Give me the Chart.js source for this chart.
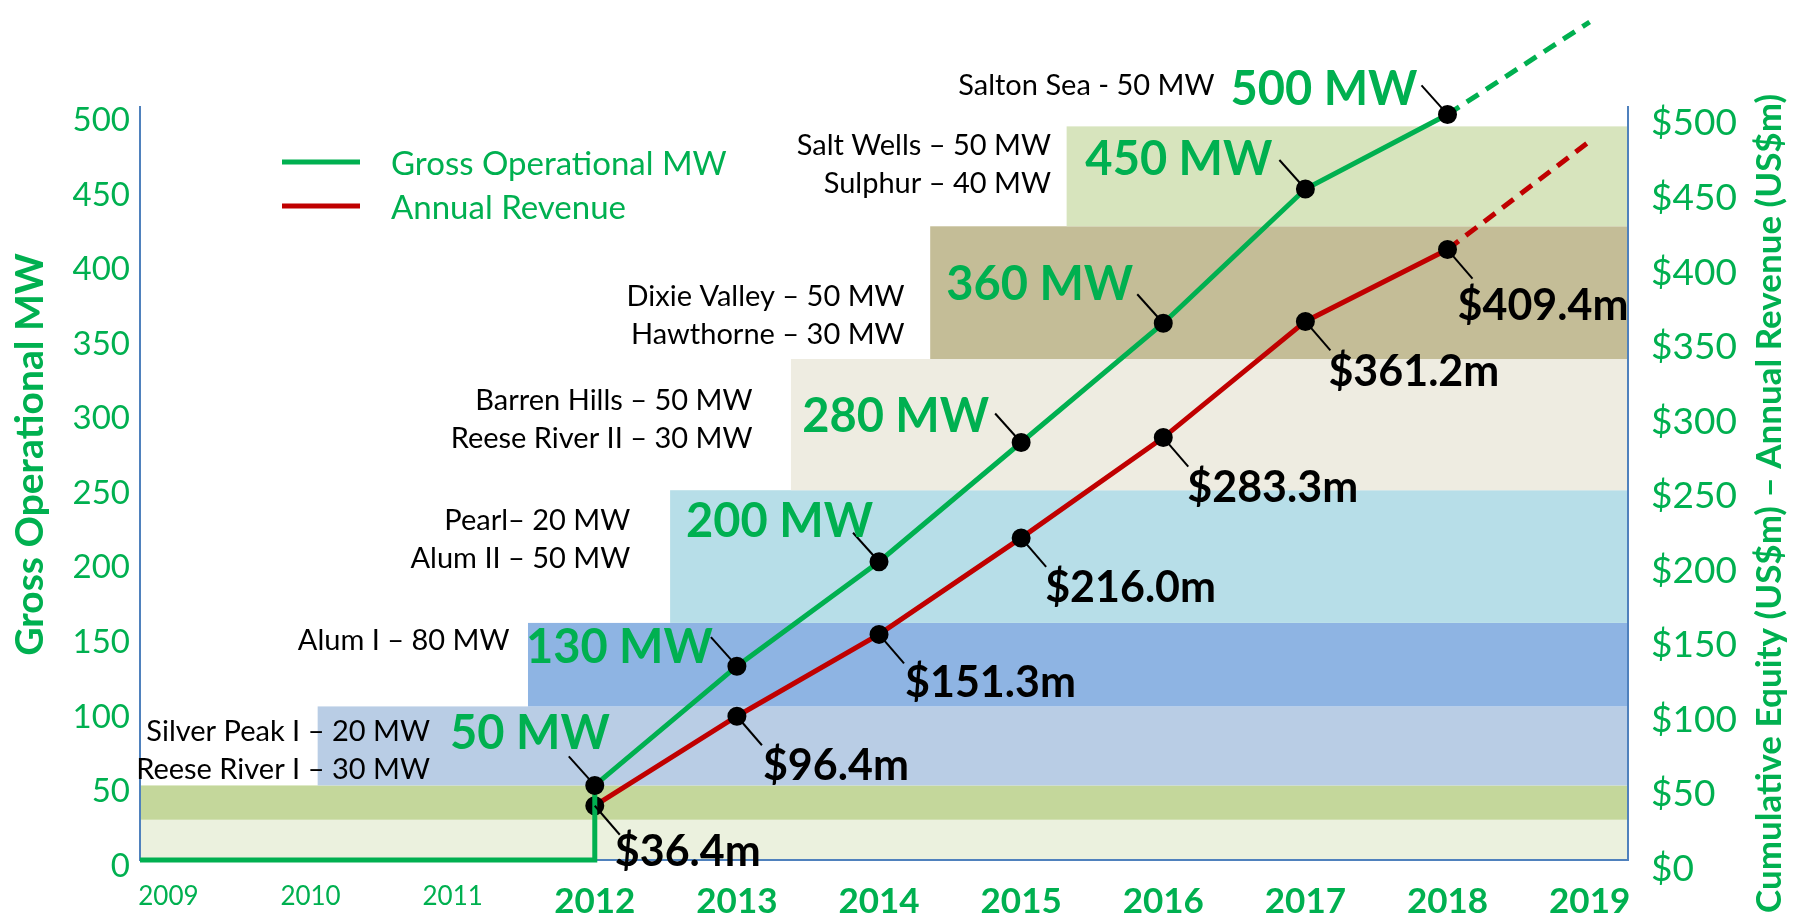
<!DOCTYPE html>
<html lang="en">
<head>
<meta charset="UTF-8">
<title>Gross Operational MW and Annual Revenue</title>
<script src="https://cdn.jsdelivr.net/npm/chart.js"></script>
<style>
  html, body { margin: 0; padding: 0; background: #fff; }
  #wrap { position: relative; width: 1802px; height: 917px; }
</style>
</head>
<body>
<div id="wrap"><canvas id="myChart"></canvas></div>
<script>
// data
const years = [2009, 2010, 2011, 2012, 2013, 2014, 2015, 2016, 2017, 2018];
const grossMW = [0, 0, 0, 50, 130, 200, 280, 360, 450, 500];          // MW
const revenue = [null, null, null, 36.4, 96.4, 151.3, 216.0, 283.3, 361.2, 409.4]; // US$m

// dashed projection
const projYears = [2018, 2019];
const projMW = [500, 562];
const projRevenue = [409.4, 482];

// tick labels
const xTickYears = [2009, 2010, 2011, 2012, 2013, 2014, 2015, 2016, 2017, 2018, 2019];
const yTickValues = [0, 50, 100, 150, 200, 250, 300, 350, 400, 450, 500];

// background bands (year they start, low / high value)
const bandFrom = [null, null, 2010.05, 2011.53, 2012.53, 2013.38, 2014.36, 2015.32];
const bandLow = [0, 27, 50, 103, 159, 248, 336, 425];
const bandHigh = [27, 50, 103, 159, 248, 336, 425, 492];
const bandColors = ['#EBF1DE', '#C4D79B', '#B9CDE5', '#8EB4E3', '#B7DEE8', '#EEECE1', '#C4BD97', '#D7E4BD'];

// plant names added each step
const projectNotes = [
    ['Silver Peak I – 20 MW', 'Reese River I – 30 MW'],
    ['Alum I – 80 MW'],
    ['Pearl– 20 MW', 'Alum II – 50 MW'],
    ['Barren Hills – 50 MW', 'Reese River II – 30 MW'],
    ['Dixie Valley – 50 MW', 'Hawthorne – 30 MW'],
    ['Salt Wells – 50 MW', 'Sulphur – 40 MW'],
    ['Salton Sea - 50 MW']
];

// layout only: where each note sits (right edge year, first line value)
const noteAnchors = [[2010.84, 86.4], [2011.40, 147.4], [2012.25, 227.6], [2013.11, 307.9],
                     [2014.18, 378], [2015.21, 479], [2016.36, 519.3]];
// px nudges of the value labels, from 2012 on
const mwNudge = [[15, -36], [-24, -3], [-6, -25], [-32, -10], [-30, -23], [-33, -14], [-30, -9]];
const revNudge = [[20, 60], [26, 64], [26, 63], [24, 64], [24, 64], [23, 65], [10, 70]];

const GREEN = '#00B050';
const RED = '#C00000';
const AXIS = '#4F81BD';
const X_MIN = 2008.8, X_MAX = 2019.27;

// green line: flat at zero, then a step up in the first operating year
const greenPts = [{ x: X_MIN, y: 0 }];
years.forEach((yr, i) => {
    if (i > 0 && grossMW[i - 1] === 0 && grossMW[i] > 0) greenPts.push({ x: yr, y: 0 });
    greenPts.push({ x: yr, y: grossMW[i] });
});
const redPts = years.map((yr, i) => ({ x: yr, y: revenue[i] })).filter(p => p.y !== null);

const decor = {
    id: 'decor',
    beforeDraw(chart) {
        const { ctx, chartArea: a, scales: { x, y } } = chart;
        ctx.save();
        bandLow.forEach((lo, i) => {
            const left = bandFrom[i] === null ? a.left : x.getPixelForValue(bandFrom[i]);
            const top = y.getPixelForValue(bandHigh[i]);
            const bottom = y.getPixelForValue(lo);
            ctx.fillStyle = bandColors[i];
            ctx.fillRect(left, top, a.right - left, bottom - top);
        });
        ctx.restore();
    },
    afterDatasetsDraw(chart) {
        const { ctx, scales: { x, y, y1 } } = chart;
        ctx.save();
        ctx.strokeStyle = '#000';
        ctx.lineWidth = 2;

        // MW labels
        let k = 0;
        years.forEach((yr, i) => {
            if (grossMW[i] <= 0) return;
            const px = x.getPixelForValue(yr), py = y.getPixelForValue(grossMW[i]);
            ctx.beginPath(); ctx.moveTo(px, py); ctx.lineTo(px - 26, py - 29); ctx.stroke();
            ctx.font = 'bold 47px Lato';
            ctx.fillStyle = GREEN;
            ctx.textAlign = 'right';
            ctx.textBaseline = 'alphabetic';
            ctx.fillText(grossMW[i] + ' MW', px + mwNudge[k][0], py + mwNudge[k][1]);
            k++;
        });

        // revenue labels
        k = 0;
        years.forEach((yr, i) => {
            if (revenue[i] === null) return;
            const px = x.getPixelForValue(yr), py = y1.getPixelForValue(revenue[i]);
            ctx.beginPath(); ctx.moveTo(px, py); ctx.lineTo(px + 25, py + 29); ctx.stroke();
            ctx.font = 'bold 43px Lato';
            ctx.fillStyle = '#000';
            ctx.textAlign = 'left';
            ctx.textBaseline = 'alphabetic';
            ctx.fillText('$' + revenue[i].toFixed(1) + 'm', px + revNudge[k][0], py + revNudge[k][1]);
            k++;
        });

        // plant notes
        ctx.font = '29px Lato';
        ctx.fillStyle = '#000';
        ctx.textAlign = 'right';
        ctx.textBaseline = 'middle';
        projectNotes.forEach((lines, i) => {
            const px = x.getPixelForValue(noteAnchors[i][0]);
            const py = y.getPixelForValue(noteAnchors[i][1]);
            lines.forEach((t, j) => ctx.fillText(t, px, py + j * 38));
        });
        ctx.restore();
    },
    afterDraw(chart) {
        const { ctx, chartArea: a } = chart;
        ctx.save();
        // legend
        [0, 1].forEach((d, i) => {
            const ds = chart.data.datasets[d];
            const ly = a.top + 55 + i * 44;
            ctx.strokeStyle = ds.borderColor;
            ctx.lineWidth = 5;
            ctx.beginPath(); ctx.moveTo(a.left + 142, ly); ctx.lineTo(a.left + 220, ly); ctx.stroke();
            ctx.font = '33px Lato';
            ctx.fillStyle = GREEN;
            ctx.textAlign = 'left';
            ctx.textBaseline = 'middle';
            ctx.fillText(ds.label, a.left + 251, ly + 2);
        });

        // axis titles
        ctx.fillStyle = GREEN;
        ctx.textAlign = 'center';
        ctx.textBaseline = 'middle';
        ctx.save();
        ctx.translate(30, (a.top + a.bottom) / 2 - 29);
        ctx.rotate(-Math.PI / 2);
        ctx.font = 'bold 39px Lato';
        ctx.fillText('Gross Operational MW', 0, 0);
        ctx.restore();
        ctx.save();
        ctx.translate(a.right + 142, (a.top + a.bottom) / 2 + 20);
        ctx.rotate(-Math.PI / 2);
        ctx.font = 'bold 35px Lato';
        ctx.fillText('Cumulative Equity (US$m) – Annual Revenue (US$m)', 0, 0);
        ctx.restore();
        ctx.restore();
    }
};

const ctx = document.getElementById('myChart').getContext('2d');
const myChart = new Chart(ctx, {
    type: 'line',
    data: {
        datasets: [
            {
                label: 'Gross Operational MW',
                data: greenPts,
                borderColor: GREEN,
                borderWidth: 5,
                pointRadius: c => (c.raw && c.raw.y > 0 ? 7 : 0),
                pointBackgroundColor: '#000',
                pointBorderColor: '#000',
                yAxisID: 'y'
            },
            {
                label: 'Annual Revenue',
                data: redPts,
                borderColor: RED,
                borderWidth: 5,
                pointRadius: 7,
                pointBackgroundColor: '#000',
                pointBorderColor: '#000',
                yAxisID: 'y1'
            },
            {
                label: 'MW projection',
                data: projYears.map((yr, i) => ({ x: yr, y: projMW[i] })),
                borderColor: GREEN,
                borderWidth: 5,
                borderDash: [14, 9],
                pointRadius: 0,
                yAxisID: 'y'
            },
            {
                label: 'Revenue projection',
                data: projYears.map((yr, i) => ({ x: yr, y: projRevenue[i] })),
                borderColor: RED,
                borderWidth: 5,
                borderDash: [14, 9],
                pointRadius: 0,
                yAxisID: 'y1'
            }
        ]
    },
    options: {
        responsive: true,
        maintainAspectRatio: false,
        animation: false,
        clip: false,
        layout: { padding: { top: 107, left: 0, right: 0, bottom: 0 } },
        plugins: { legend: { display: false }, tooltip: { enabled: false } },
        scales: {
            x: {
                type: 'linear',
                min: X_MIN,
                max: X_MAX,
                afterBuildTicks: s => { s.ticks = xTickYears.map(v => ({ value: v })); },
                afterFit: s => { s.height = 57; },
                grid: { display: false, drawTicks: false },
                border: { display: true, color: AXIS, width: 2 },
                ticks: {
                    color: GREEN,
                    padding: 21,
                    maxRotation: 0,
                    autoSkip: false,
                    callback: v => String(v),
                    font: c => (c.tick && c.tick.value >= 2012
                        ? { family: 'Lato', size: 35, weight: 'bold' }
                        : { family: 'Lato', size: 26 })
                }
            },
            y: {
                position: 'left',
                min: 0,
                max: 505,
                afterBuildTicks: s => { s.ticks = yTickValues.map(v => ({ value: v })); },
                afterFit: s => { s.width = 140; },
                grid: { display: false, drawTicks: false },
                border: { display: true, color: AXIS, width: 2 },
                ticks: { color: GREEN, padding: 10, labelOffset: 6, font: { family: 'Lato', size: 33 } }
            },
            y1: {
                position: 'right',
                min: 0,
                max: 505,
                afterBuildTicks: s => { s.ticks = yTickValues.map(v => ({ value: v })); },
                afterFit: s => { s.width = 174; },
                grid: { display: false, drawTicks: false },
                border: { display: true, color: AXIS, width: 2 },
                ticks: {
                    color: GREEN, padding: 23, labelOffset: 9,
                    font: { family: 'Lato', size: 37 },
                    callback: v => '$' + v
                }
            }
        }
    },
    plugins: [decor]
});
</script>
</body>
</html>
